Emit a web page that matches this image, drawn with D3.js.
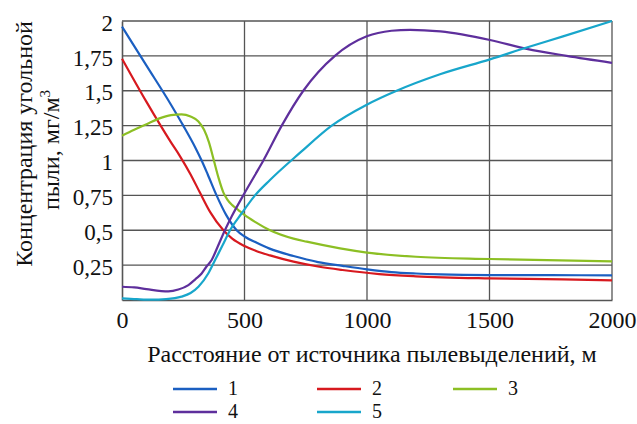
<!DOCTYPE html>
<html>
<head>
<meta charset="utf-8">
<script src="https://cdn.jsdelivr.net/npm/d3@7/dist/d3.min.js"></script>
<style>
  html, body { margin: 0; padding: 0; background: #fff; }
  svg { display: block; }
</style>
</head>
<body>
<svg id="chart" width="637" height="424"></svg>
<script>
// Concentration of coal dust (mg/m3) versus distance from the source (m)
const xTicks = [0, 500, 1000, 1500, 2000];
const yTicks = [0.25, 0.5, 0.75, 1, 1.25, 1.5, 1.75, 2];
const yTickLabels = ["0,25", "0,5", "0,75", "1", "1,25", "1,5", "1,75", "2"];

const seriesNames = ["1", "2", "3", "4", "5"];
const seriesColors = ["#1b5fc1", "#d7191f", "#8cbf24", "#5e2f9c", "#18a6cb"];

// [distance, concentration]
const series1 = [[0,1.96],[100,1.68],[200,1.40],[250,1.25],[300,1.09],[325,1.0],[350,0.9],[386,0.75],[425,0.61],[468,0.5],[500,0.455],[550,0.41],[600,0.37],[700,0.315],[800,0.272],[900,0.245],[1000,0.22],[1100,0.2],[1200,0.19],[1300,0.184],[1500,0.179],[1750,0.178],[2000,0.177]];
const series2 = [[0,1.73],[100,1.42],[200,1.13],[237,1.03],[280,0.9],[318,0.77],[360,0.63],[414,0.5],[450,0.44],[500,0.387],[550,0.35],[604,0.32],[700,0.275],[800,0.24],[900,0.215],[1050,0.186],[1200,0.17],[1500,0.155],[1800,0.148],[2000,0.14]];
const series3 = [[0,1.178],[50,1.22],[100,1.26],[150,1.3],[200,1.325],[243,1.33],[280,1.315],[312,1.28],[335,1.22],[355,1.13],[375,1.0],[395,0.87],[414,0.77],[430,0.72],[450,0.68],[475,0.645],[500,0.61],[543,0.56],[604,0.5],[700,0.44],[754,0.418],[890,0.37],[1000,0.34],[1200,0.31],[1500,0.294],[2000,0.277]];
const series4 = [[0,0.095],[50,0.09],[100,0.078],[189,0.062],[230,0.075],[271,0.107],[300,0.15],[325,0.19],[345,0.24],[366,0.287],[390,0.38],[420,0.5],[448,0.6],[495,0.75],[543,0.896],[577,1.0],[652,1.25],[740,1.5],[869,1.75],[999,1.89],[1100,1.93],[1176,1.937],[1300,1.925],[1502,1.864],[1652,1.8],[1815,1.75],[2000,1.7]];
const series5 = [[0,0.012],[60,0.006],[120,0.002],[180,0.006],[243,0.024],[280,0.05],[312,0.095],[352,0.19],[380,0.287],[410,0.39],[441,0.5],[488,0.62],[543,0.75],[604,0.86],[727,1.056],[856,1.25],[999,1.4],[1121,1.5],[1298,1.618],[1502,1.725],[1652,1.81],[1800,1.89],[2000,2.0]];
const allSeries = [series1, series2, series3, series4, series5];

const FONT = '"Liberation Serif", "Times New Roman", Tinos, serif';

const svg = d3.select("#chart");
const plot = { left: 122, right: 612, top: 21, bottom: 300 };

const x = d3.scaleLinear().domain([0, 2000]).range([plot.left, plot.right]);
const y = d3.scaleLinear().domain([0, 2]).range([plot.bottom, plot.top]);

const gridColor = "#555";

// horizontal grid
svg.append("g")
  .selectAll("line")
  .data(yTicks)
  .join("line")
  .attr("x1", plot.left).attr("x2", plot.right)
  .attr("y1", d => y(d)).attr("y2", d => y(d))
  .attr("stroke", gridColor).attr("stroke-width", 1.3);

// vertical grid
svg.append("g")
  .selectAll("line")
  .data(xTicks.slice(1))
  .join("line")
  .attr("x1", d => x(d)).attr("x2", d => x(d))
  .attr("y1", plot.top).attr("y2", plot.bottom)
  .attr("stroke", gridColor).attr("stroke-width", 1.3);

// axes
const xAxis = d3.axisBottom(x).tickValues(xTicks).tickSize(0).tickPadding(28).tickFormat(d3.format("d"));
const yAxis = d3.axisLeft(y).tickValues(yTicks).tickSize(0).tickPadding(9)
  .tickFormat((d, i) => yTickLabels[i]);

const gx = svg.append("g").attr("transform", `translate(0,${plot.bottom})`).call(xAxis);
const gy = svg.append("g").attr("transform", `translate(${plot.left},0)`).call(yAxis);
[gx, gy].forEach(g => {
  g.select(".domain").attr("stroke", gridColor).attr("stroke-width", 1.6);
  g.selectAll("text").style("font-family", FONT).attr("fill", "#111");
});
gy.selectAll("text").attr("font-size", 23).attr("dy", "0.4em");
gx.selectAll("text").attr("font-size", 24).attr("dy", 0);

// series lines
const line = d3.line().x(d => x(d[0])).y(d => y(d[1])).curve(d3.curveMonotoneX);
svg.append("g")
  .selectAll("path")
  .data(allSeries)
  .join("path")
  .attr("d", line)
  .attr("fill", "none")
  .attr("stroke", (d, i) => seriesColors[i])
  .attr("stroke-width", 2.2)
  .attr("stroke-linejoin", "round");

// axis titles
svg.append("text")
  .attr("x", 372).attr("y", 362)
  .attr("text-anchor", "middle")
  .style("font-family", FONT)
  .attr("font-size", 24)
  .attr("fill", "#111")
  .text("Расстояние от источника пылевыделений, м");

svg.append("text")
  .attr("transform", "translate(32,144) rotate(-90)")
  .attr("text-anchor", "middle")
  .style("font-family", FONT)
  .attr("font-size", 24)
  .attr("fill", "#111")
  .text("Концентрация угольной");

const t2 = svg.append("text")
  .attr("transform", "translate(59,150) rotate(-90)")
  .attr("text-anchor", "middle")
  .style("font-family", FONT)
  .attr("font-size", 24)
  .attr("fill", "#111");
t2.append("tspan").text("пыли, мг/м");
t2.append("tspan").attr("dy", -9).attr("font-size", 15).text("3");

// legend
const legendPos = [[173, 389], [317, 389], [453, 389], [173, 412], [317, 412]];
const lg = svg.append("g")
  .selectAll("g")
  .data(seriesNames)
  .join("g")
  .attr("transform", (d, i) => `translate(${legendPos[i][0]},${legendPos[i][1]})`);
lg.append("line")
  .attr("x1", 0).attr("x2", 44).attr("y1", 0).attr("y2", 0)
  .attr("stroke", (d, i) => seriesColors[i]).attr("stroke-width", 2.6);
lg.append("text")
  .attr("x", 55).attr("y", 6)
  .style("font-family", FONT)
  .attr("font-size", 20)
  .attr("fill", "#111")
  .text(d => d);
</script>
</body>
</html>
